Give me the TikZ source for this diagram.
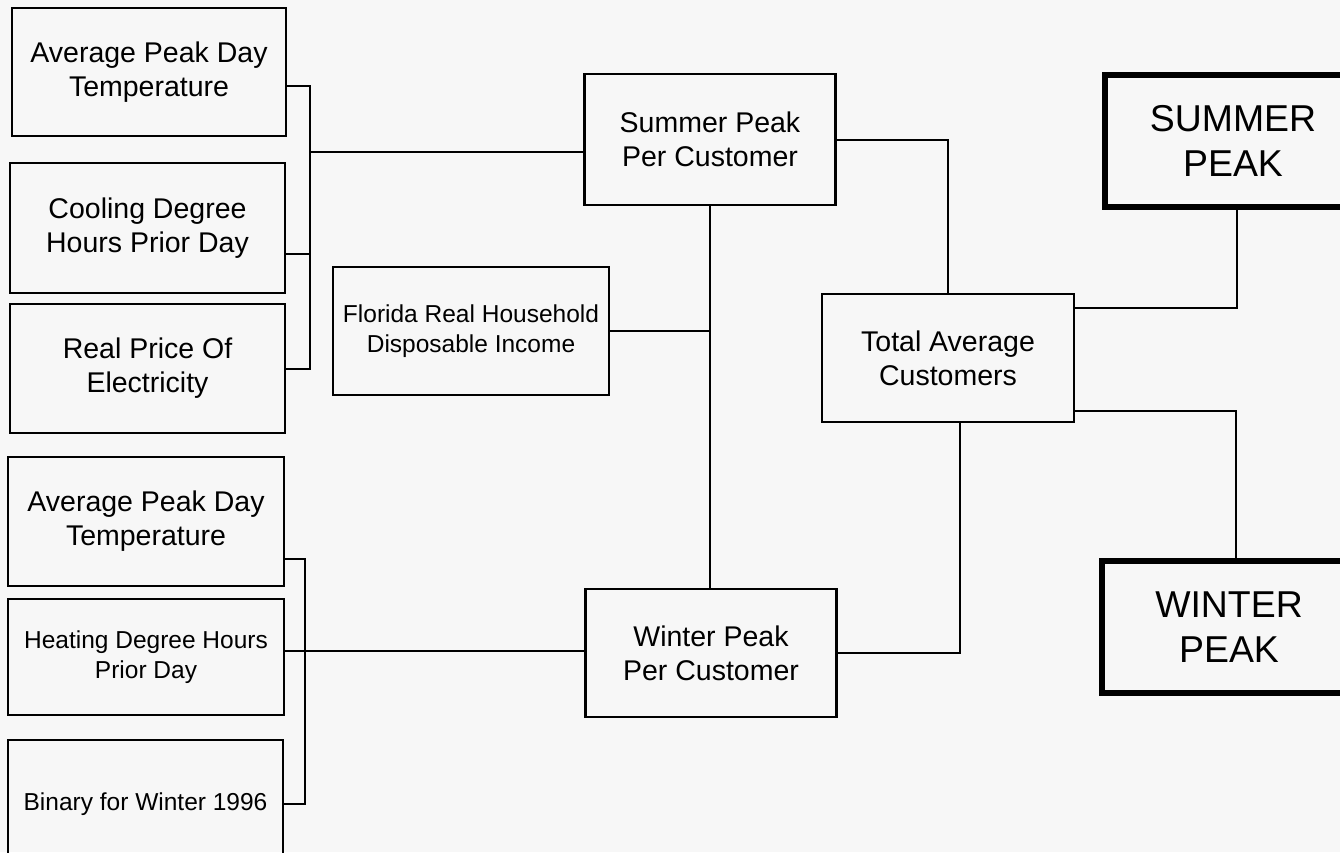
\documentclass[tikz,border=0pt]{standalone}
\usepackage{fontspec}
\setmainfont{Liberation Sans}
\definecolor{bgc}{RGB}{247,247,247}
\begin{document}
\begin{tikzpicture}[x=1pt,y=-1pt,
  box/.style={draw=black,line width=2.5pt,align=center,inner sep=0pt,
    font=\fontsize{28.5}{34}\selectfont},
  smallbox/.style={box,font=\fontsize{24.5}{30}\selectfont},
  bigbox/.style={box,line width=6pt,font=\fontsize{37.4}{45}\selectfont},
  conn/.style={draw=black,line width=2pt}]
\useasboundingbox (0,0) rectangle (1340,852);
\clip (0,0) rectangle (1340,852);
\fill[bgc] (0,0) rectangle (1340,852);

% summer inputs
\node[box,minimum width=274pt,minimum height=128pt] (t1) at (149,72) {Average Peak Day\\Temperature};
\node[box,minimum width=275pt,minimum height=130pt] (t2) at (147.5,228) {Cooling Degree\\Hours Prior Day};
\node[box,minimum width=275pt,minimum height=129pt] (t3) at (147.5,368.5) {Real Price Of\\Electricity};

% winter inputs
\node[box,minimum width=276pt,minimum height=129pt] (w1) at (146,521.5) {Average Peak Day\\Temperature};
\node[smallbox,minimum width=276pt,minimum height=116pt] (w2) at (146,657) {Heating Degree Hours\\Prior Day};
\node[smallbox,minimum width=275pt,minimum height=128pt] (w3) at (145.5,804) {Binary for Winter 1996};

% middle
\node[box,minimum width=251pt,minimum height=131pt] (spc) at (710,139.5) {Summer Peak\\Per Customer};
\node[smallbox,minimum width=276pt,minimum height=128pt] (fl) at (471,331) {Florida Real Household\\Disposable Income};
\node[box,minimum width=251pt,minimum height=128pt] (wpc) at (711,653) {Winter Peak\\Per Customer};
\node[box,minimum width=252pt,minimum height=128pt] (tot) at (948,358) {Total Average\\Customers};

% outputs
\node[bigbox,minimum width=256pt,minimum height=132pt] (sp) at (1233,141) {SUMMER\\PEAK};
\node[bigbox,minimum width=254pt,minimum height=132pt] (wp) at (1229,627) {WINTER\\PEAK};

% summer bus
\coordinate (busB) at (310,368.5);
\coordinate (busM) at (310,151.5);
\draw[conn] ([yshift=-14pt]t1.east) -| (busB) -- (t3.east);
\draw[conn] ([yshift=-26pt]t2.east) -- ([yshift=-26pt]t2.east -| busB);
\draw[conn] (busM) -- ([yshift=-12pt]spc.west);

% winter bus
\coordinate (wbusB) at (305,804);
\draw[conn] ([yshift=-37.5pt]w1.east) -| (wbusB) -- (w3.east);
\draw[conn] ([yshift=2pt]wpc.west) -- ([yshift=2pt]wpc.west -| w2.east);

% middle connections
\draw[conn] (fl.east) -- (fl.east -| spc.south);
\draw[conn] (spc.south) -- (spc.south |- wpc.north);
\draw[conn] (spc.east) -| (tot.north);
\draw[conn] (wpc.east) -| ([xshift=12pt]tot.south);

% outputs connections
\draw[conn] ([yshift=50pt]tot.east) -| ([xshift=4pt]sp.south);
\draw[conn] ([yshift=-53pt]tot.east) -| ([xshift=7pt]wp.north);
\end{tikzpicture}
\end{document}
